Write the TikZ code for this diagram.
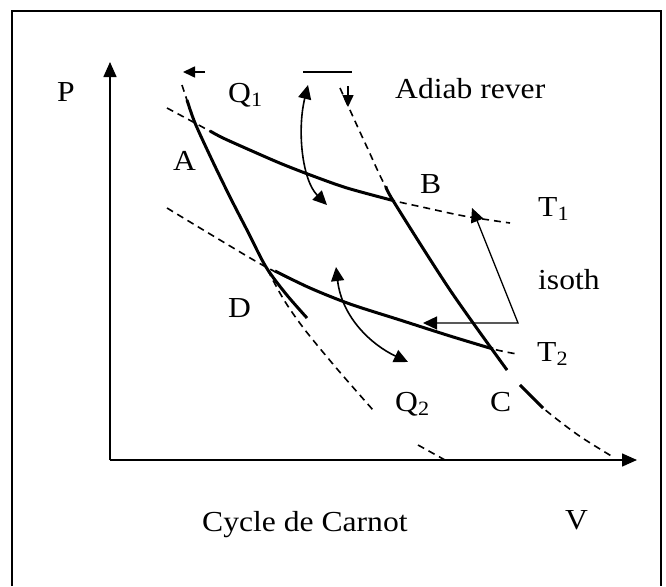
\documentclass[tikz,border=0pt]{standalone}
\usepackage{fontspec}
\setmainfont{Liberation Serif}[FakeStretch=1.09]
\usetikzlibrary{arrows.meta}

\begin{document}
\begin{tikzpicture}[
  x=1pt, y=-1pt,
  every node/.style={font=\fontsize{29}{34}\selectfont, inner sep=0pt, anchor=base west},
  axis/.style={line width=1.5pt, -{Triangle[length=15pt, width=13pt]}},
  curve/.style={line width=3pt},
  guide/.style={line width=1.6pt, dash pattern=on 7pt off 5pt},
  arrow/.style={line width=1.6pt, -{Triangle[length=12pt, width=11pt]}},
  twoway/.style={line width=1.6pt, {Triangle[length=14pt, width=13pt]}-{Triangle[length=14pt, width=13pt]}},
]

\useasboundingbox (0,0) rectangle (666,586);

% frame, its bottom edge falls off the page
\draw[line width=1.8pt] (12,586) |- (661,11) -- (661,586);

% axes
\coordinate (O) at (110,460);
\coordinate (Pend) at (110,62);
\coordinate (Vend) at (637,460);
\draw[axis] (O) -- (Pend);
\draw[axis] (O) -- (Vend);

% corners of the cycle
\coordinate (A) at (195,123);
\coordinate (B) at (393,200.5);
\coordinate (C) at (493,349);
\coordinate (D) at (266,267);

% isotherms T1 and T2
\draw[guide] plot[smooth] coordinates {(167,108) (A) (223,138) (252,151) (282,164) (313,176) (347,188) (B) (422,207) (464,216) (510,223)};
\draw[guide] plot[smooth] coordinates {(167,208) (215,237) (D) (310,288) (350,304) (400,320) (450,336) (C) (517,354)};
\draw[curve] plot[smooth] coordinates {(210,131) (223,138) (252,151) (282,164) (313,176) (347,188) (B)};
\draw[curve] plot[smooth] coordinates {(275,271) (310,288) (350,304) (400,320) (450,336) (C)};

% adiabats
\draw[guide] plot[smooth] coordinates {(182,85) (A) (212,160) (230,197) (248,232) (D) (284,300) (305,330) (338,370) (373,410)};
\draw[guide] (418,445) -- (445,460);
\draw[guide] plot[smooth] coordinates {(340,88) (366,145) (B) (450,290) (507,370)};
\draw[guide] plot[smooth] coordinates {(520,385) (543,408) (578,435) (613,457)};
\draw[curve] plot[smooth] coordinates {(187,100) (A) (212,160) (230,197) (248,232) (D) (286,294) (307,318)};
\draw[curve] plot[smooth] coordinates {(386,186) (B) (450,290) (507,370)};
\draw[curve] (520,385) -- (543,408);

% heat and direction marks
\coordinate (q1tail) at (205,72);
\coordinate (q1tip) at (183,72);
\draw[arrow] (q1tail) -- (q1tip);
\draw[line width=1.6pt] (303,72) -- (352,72);
\draw[arrow] (348,86) -- (348,107);
\draw[twoway] (308,85) .. controls (297,130) and (302,180) .. (327,205);
\draw[twoway] (336,267) .. controls (342,318) and (372,345) .. (408,362);

% pointer to both isotherms
\coordinate (bend) at (518,323);
\draw[twoway, line width=1.3pt] (423,323) -- (bend) -- (472,208);

% labels
\node (pLbl) at (57,101) {P};
\node (q1) at (228,102) {Q\textsubscript{1}};
\node (adiab) at (395,98) {Adiab rever};
\node (aLbl) at (173,170) {A};
\node (bLbl) at (420,193) {B};
\node (t1) at (538,216) {T\textsubscript{1}};
\node (isoth) at (538,289) {isoth};
\node (dLbl) at (228,317) {D};
\node (t2) at (537,361) {T\textsubscript{2}};
\node (q2) at (395,411) {Q\textsubscript{2}};
\node (cLbl) at (490,411) {C};
\node (vLbl) at (565,529) {V};
\node (title) at (202,531) {Cycle de Carnot};

\end{tikzpicture}
\end{document}
